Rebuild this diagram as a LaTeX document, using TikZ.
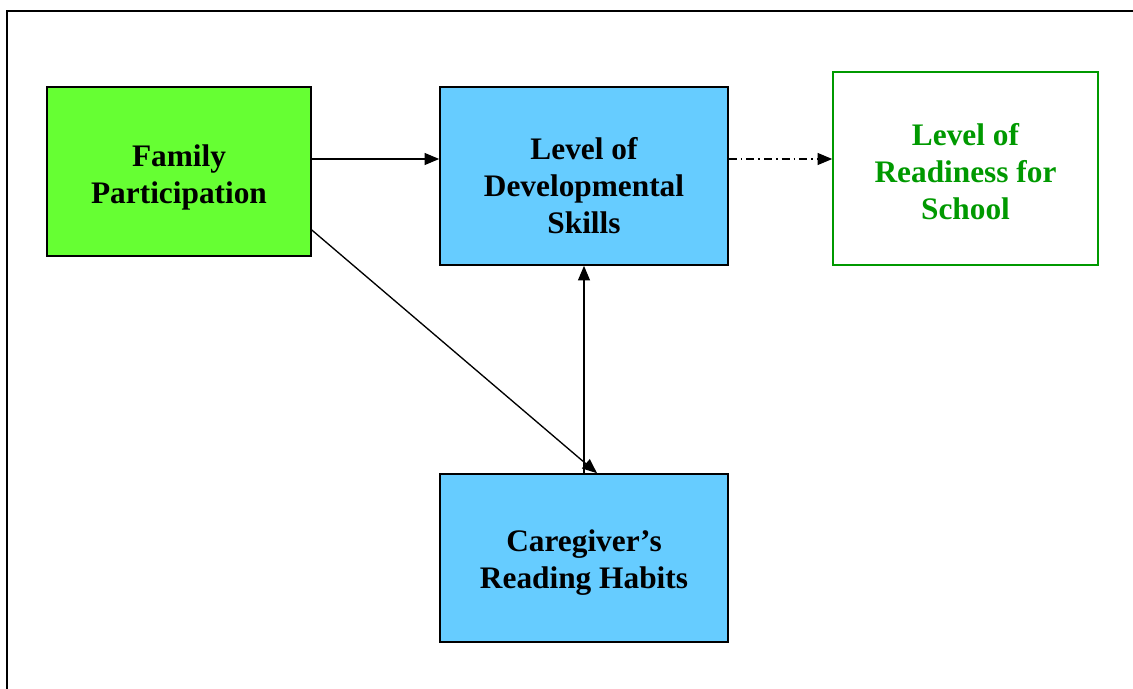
\documentclass[tikz,border=0pt]{standalone}
\usepackage{fontspec}
\setmainfont{Liberation Serif}
\usepackage{tikz}
\usetikzlibrary{arrows.meta}
\definecolor{famgreen}{HTML}{66FF33}
\definecolor{skyblue}{HTML}{66CCFF}
\definecolor{darkgreen}{HTML}{009900}

\begin{document}
\begin{tikzpicture}[x=0.75pt,y=-0.75pt,
		box/.style={draw=black, line width=1.2pt, inner sep=0pt},
		boxtext/.style={inner sep=0pt, align=center, font=\fontsize{23.5}{27.8}\selectfont\bfseries},
		link/.style={line width=1pt, -{Triangle[length=11pt,width=9pt]}}]
			\useasboundingbox (0,0) rectangle (1133,689);
			\clip (0,0) rectangle (1133,689);
			\draw[line width=1.5pt] (7,11) rectangle (1150,710);
			\node[box, fill=famgreen, minimum width=198pt, minimum height=126.75pt] (fam) at (179,171.5) {};
			\node[box, fill=skyblue, minimum width=216pt, minimum height=133.5pt] (dev) at (584,176) {};
			\node[box, draw=darkgreen, minimum width=198.75pt, minimum height=144.75pt] (rdy) at (965.5,168.5) {};
			\node[box, fill=skyblue, minimum width=216pt, minimum height=126pt] (cg) at (584,558) {};
			\node[boxtext] (famtext) at (179,177) {Family\\Participation};
			\node[boxtext] (devtext) at (584,186) {Level of\\Developmental\\Skills};
			\node[boxtext, text=darkgreen] (rdytext) at (965.5,171.5) {Level of\\Readiness for\\School};
			\node[boxtext] (cgtext) at (584,563) {Caregiver’s\\Reading Habits};
			\draw[link] (fam.east |- 0,159) -- (dev.west |- 0,159);
			\draw[link, dash pattern=on 6pt off 3pt on 1.2pt off 3pt] (dev.east |- 0,159) -- (rdy.west |- 0,159);
			\draw[link] (fam.east |- 0,230) -- ([xshift=9.75pt]cg.north);
			\draw[link] (cg.north) -- (dev.south);
		\end{tikzpicture}
\end{document}
